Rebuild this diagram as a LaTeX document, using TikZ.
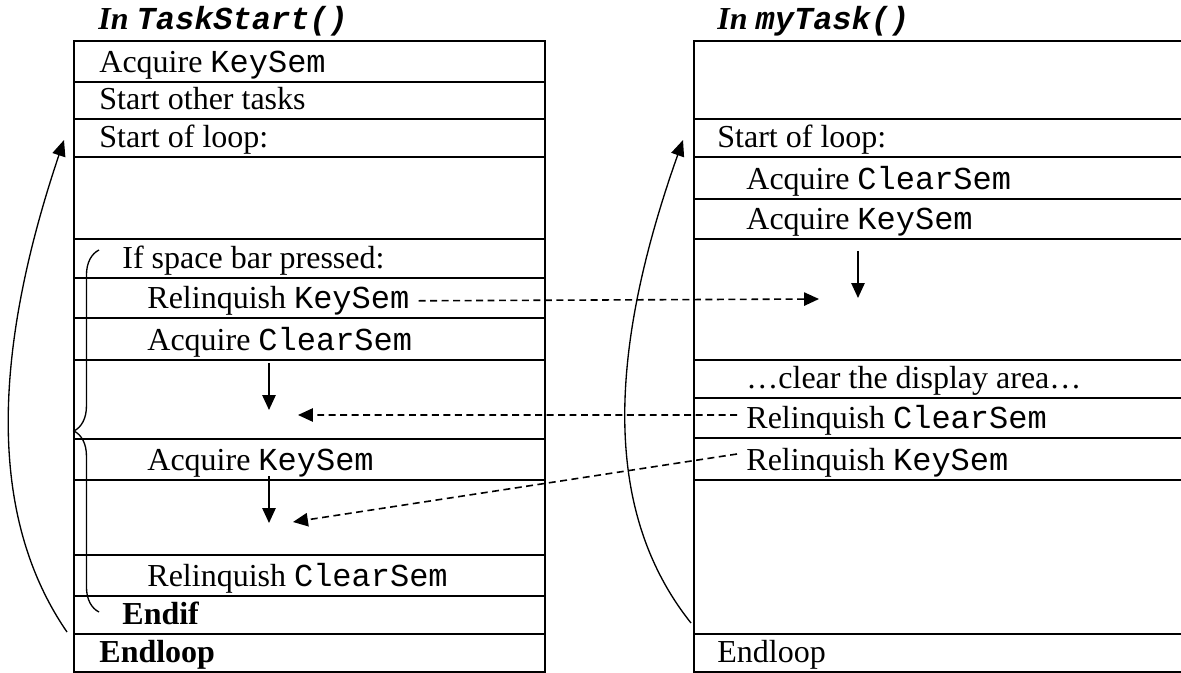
\documentclass[tikz,border=0pt]{standalone}
\usepackage{fontspec}
\setmainfont{Liberation Serif}
\setmonofont{Liberation Mono}
\usetikzlibrary{arrows.meta,decorations.pathreplacing}

\begin{document}
\begin{tikzpicture}[x=0.375pt,y=-0.375pt,
    cell/.style={draw=black,line width=0.8pt},
    txt/.style={anchor=base west,font=\fontsize{12}{14}\selectfont},
    flow/.style={line width=0.6pt,-{Triangle[length=5.6pt,width=5pt]}},
    signal/.style={flow,dash pattern=on 2.6pt off 1.7pt},
    loopback/.style={line width=0.5pt,-{Triangle[length=6pt,width=5pt]}}]

  \useasboundingbox (0,0) rectangle (1181,673);

  % titles
  \node[txt] (titleL) at (89,30) {\textbf{\textit{In \texttt{TaskStart()}}}};
  \node[txt] (titleR) at (708,30) {\textbf{\textit{In \texttt{myTask()}}}};

  % draw rows of both tables
  \draw[cell] (74,41) rectangle (545,672);
  \foreach \y in {82,119,157,239,278,318,360,439,480,555,596,634}
    \draw[cell] (74,\y) -- (545,\y);
  \draw[cell] (1190,41) -- (694,41) -- (694,672) -- (1190,672);
  \foreach \y in {119,157,199,239,360,398,438,480,634}
    \draw[cell] (694,\y) -- (1190,\y);

  % draw texts with nodes (x, bottom of row)
  \foreach \n/\x/\y/\t in {
      acqKey/90/82/{Acquire \texttt{KeySem}},
      startTasks/90/119/{Start other tasks},
      loopL/90/157/{Start of loop:},
      ifSpace/113/278/{If space bar pressed:},
      relKeyL/138/318/{Relinquish \texttt{KeySem}},
      acqClearL/138/360/{Acquire \texttt{ClearSem}},
      acqKeyL/138/480/{Acquire \texttt{KeySem}},
      relClearL/138/596/{Relinquish \texttt{ClearSem}},
      endIf/113/634/{\textbf{Endif}},
      endLoopL/90/672/{\textbf{Endloop}},
      loopR/708/157/{Start of loop:},
      acqClearR/737/199/{Acquire \texttt{ClearSem}},
      acqKeyR/737/239/{Acquire \texttt{KeySem}},
      clearArea/737/398/{…clear the display area…},
      relClearR/737/438/{Relinquish \texttt{ClearSem}},
      relKeyR/737/480/{Relinquish \texttt{KeySem}},
      endLoopR/708/672/{Endloop}} {
    \node[txt] (\n) at (\x,\y-9.5) {\t};
  };

  % free ends of the arrows
  \coordinate (keyGo) at (819,299);
  \coordinate (clearBack) at (298,415);
  \coordinate (keyBack) at (293,522);
  \coordinate (waitClear) at (269,363);
  \coordinate (waitClearEnd) at (269,410);
  \coordinate (waitKey) at (269,476);
  \coordinate (waitKeyEnd) at (269,523);
  \coordinate (waitTask) at (858,251);
  \coordinate (waitTaskEnd) at (858,298);
  \coordinate (backL) at (67,632);
  \coordinate (topL) at (64,140);
  \coordinate (backR) at (691,623);
  \coordinate (topR) at (683,140);
  \coordinate (braceLow) at (99,612);
  \coordinate (braceHigh) at (99,250);

  % waiting on a semaphore
  \draw[flow] (waitClear) -- (waitClearEnd);
  \draw[flow] (waitKey) -- (waitKeyEnd);
  \draw[flow] (waitTask) -- (waitTaskEnd);

  % semaphores handed over
  \draw[signal] (relKeyL.east) -- (keyGo);
  \draw[signal] ([yshift=2pt]relClearR.west) -- (clearBack);
  \draw[signal] ([yshift=3.3pt]relKeyR.west) -- (keyBack);

  % loops
  \draw[loopback] (backL) .. controls (-10,520) and (-10,360) .. (topL);
  \draw[loopback] (backR) .. controls (605,515) and (605,360) .. (topR);

  % if block
  \draw[line width=0.5pt,decorate,decoration={brace,amplitude=9.4pt}] (braceLow) -- (braceHigh);

\end{tikzpicture}
\end{document}
